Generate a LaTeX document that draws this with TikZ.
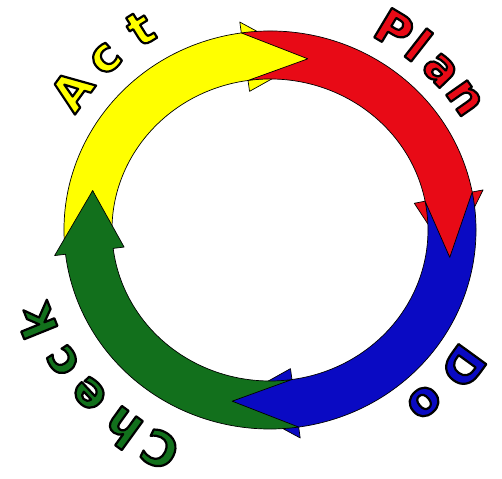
\documentclass[tikz,border=0pt]{standalone}
\usepackage{fontspec}
\setsansfont{DejaVu Sans}
\definecolor{pdcayellow}{RGB}{255,255,0}
\definecolor{pdcared}{RGB}{232,10,22}
\definecolor{pdcablue}{RGB}{10,10,195}
\definecolor{pdcagreen}{RGB}{18,112,28}
% filled letter with a black rim
\newcommand{\rimmed}[1]{\special{pdf:code q 0 G 2.2 w 1 j 2 Tr}#1\special{pdf:code Q}}
\begin{document}
\begin{tikzpicture}[x=1pt,y=1pt,
  band/.style={draw=black,line width=0.7pt,line join=round},
  letter/.style={font=\sffamily\bfseries\fontsize{47}{47}\selectfont,anchor=base,inner sep=0pt}]
\useasboundingbox (-270,-248) rectangle (232,230);
% the four arrows: colour / tail angle / tip angle
\foreach \col/\tail/\tip in {pdcayellow/187/78,pdcared/98/-9,pdcablue/11/-102,pdcagreen/-82/-193}{
  \pgfmathsetmacro\base{\tip+20}
  \pgfmathsetmacro\notch{\tail-20}
  \filldraw[band,fill=\col](\tail:206pt and 199pt)
    arc[start angle=\tail,end angle=\base,x radius=206pt,y radius=199pt]
    --(\base:217pt and 210pt)--(\tip:182pt and 175pt)--(\base:147pt and 140pt)
    --(\base:158pt and 151pt)
    arc[start angle=\base,end angle=\tail,x radius=158pt,y radius=151pt]
    --(\notch:182pt and 175pt)--cycle;
}
% words round the ring
\foreach \ch/\ang [count=\i] in {A/144,c/133,t/122}
  \node[letter,text=pdcayellow,rotate=\ang-90](act\i) at (\ang:228pt and 221pt){\rimmed{\ch}};
\foreach \ch/\ang [count=\i] in {P/59,l/52,a/44,n/35}
  \node[letter,text=pdcared,rotate=\ang-90](plan\i) at (\ang:224pt and 217pt){\rimmed{\ch}};
\foreach \ch/\ang [count=\i] in {D/-36,o/-49}
  \node[letter,text=pdcablue,rotate=\ang-90](do\i) at (\ang:222pt and 215pt){\rimmed{\ch}};
\foreach \ch/\ang [count=\i] in {C/-116,h/-126,e/-137,c/-147,k/-158}
  \node[letter,text=pdcagreen,rotate=\ang-90](check\i) at (\ang:234pt and 227pt){\rimmed{\ch}};
\end{tikzpicture}
\end{document}
